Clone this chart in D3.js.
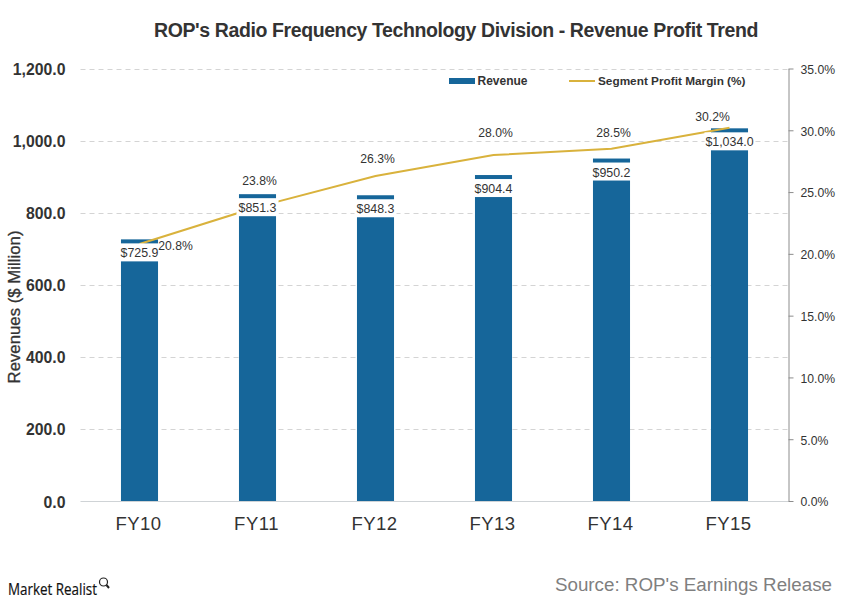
<!DOCTYPE html>
<html><head><meta charset="utf-8">
<script src="https://cdn.jsdelivr.net/npm/d3@7/dist/d3.min.js"></script>
<style>html,body{margin:0;padding:0;background:#fff}svg{display:block;font-family:"Liberation Sans",Arial,sans-serif}</style>
</head><body><svg id="c" width="844" height="602"></svg>
<script>
const categories = ["FY10","FY11","FY12","FY13","FY14","FY15"];
const revenue = [725.9,851.3,848.3,904.4,950.2,1034.0];
const margin = [20.8,23.8,26.3,28.0,28.5,30.2];
const leftTicks = [0,200,400,600,800,1000,1200];
const rightTicks = [0,5,10,15,20,25,30,35];
const revenueLabels = ["$725.9","$851.3","$848.3","$904.4","$950.2","$1,034.0"];
const marginLabels = ["20.8%","23.8%","26.3%","28.0%","28.5%","30.2%"];
const marginLabelOffsets = [[36,2],[2,-26],[2,-17],[2,-22],[2,-16],[-17,-11]];

const svg = d3.select("#c");
const x = d3.scaleBand().domain(categories).range([80.5,788.5]).paddingInner(0.686).paddingOuter(0.343);
const y = d3.scaleLinear().domain([0,1200]).range([501,68.5]);
const yR = d3.scaleLinear().domain([0,35]).range([501,68.5]);
const cx = c => x(c)+x.bandwidth()/2;
const blue="#16669a", gold="#d9b23c", dark="#333333";

// title
svg.append("text").attr("x",456).attr("y",37).attr("text-anchor","middle")
  .attr("font-size",19.5).attr("font-weight","bold").attr("fill",dark).attr("letter-spacing",-0.4)
  .text("ROP's Radio Frequency Technology Division - Revenue Profit Trend");

// gridlines
svg.append("g").selectAll("line").data(leftTicks.filter(d=>d>0)).join("line")
  .attr("x1",80.5).attr("x2",788.5).attr("y1",d=>Math.round(y(d))+.5).attr("y2",d=>Math.round(y(d))+.5)
  .attr("stroke","#d4d4d4").attr("stroke-dasharray","5 4");

// left axis
const gl = svg.append("g").attr("transform","translate(65.5,1)")
  .call(d3.axisLeft(y).tickValues(leftTicks).tickSize(0).tickPadding(0).tickFormat(d3.format(",.1f")));
gl.select(".domain").remove();
gl.selectAll("text").attr("font-size",15.8).attr("font-weight","bold").attr("fill",dark).attr("font-family","inherit");

// baseline
svg.append("line").attr("x1",80.5).attr("x2",788.5).attr("y1",501.5).attr("y2",501.5).attr("stroke","#cfd3d6");

// x axis
const gx = svg.append("g").attr("transform","translate(-1,501)")
  .call(d3.axisBottom(x).tickSize(0).tickPadding(16));
gx.select(".domain").remove();
gx.selectAll("text").attr("font-size",18.5).attr("letter-spacing",0.5).attr("fill",dark);

// right axis
const gr = svg.append("g").attr("transform","translate(788.5,0)")
  .call(d3.axisRight(yR).tickValues(rightTicks).tickSize(5).tickSizeOuter(0).tickPadding(7).tickFormat(d=>d.toFixed(1)+"%"));
gr.select(".domain").attr("stroke","#8c8c8c");
gr.selectAll("line").attr("stroke","#8c8c8c");
gr.selectAll("text").attr("font-size",12.2).attr("fill",dark).attr("transform","translate(0,1)");

// axis title
svg.append("text").attr("transform","translate(19.5,307) rotate(-90)")
  .attr("text-anchor","middle").attr("font-size",16.8).attr("fill",dark).attr("stroke",dark).attr("stroke-width",0.3)
  .text("Revenues ($ Million)");

// bars
svg.append("g").selectAll("rect").data(categories).join("rect")
  .attr("x",d=>x(d)).attr("width",x.bandwidth())
  .attr("y",(d,i)=>y(revenue[i])).attr("height",(d,i)=>y(0)-y(revenue[i])).attr("fill",blue);

// line
const line = d3.line().x((d,i)=>cx(categories[i])).y(d=>yR(d));
svg.append("path").datum(margin).attr("d",line).attr("fill","none").attr("stroke",gold).attr("stroke-width",2);

// revenue labels with white backing
const rl = svg.append("g").selectAll("g").data(categories).join("g");
rl.append("rect").attr("x",(d,i)=>cx(d)-(i==5?25:21)).attr("width",(d,i)=>i==5?50:42)
  .attr("y",(d,i)=>y(revenue[i])+4).attr("height",18).attr("fill","#fff");
rl.append("text").attr("x",d=>cx(d)).attr("y",(d,i)=>y(revenue[i])+18).attr("text-anchor","middle")
  .attr("font-size",12.4).attr("fill",dark).text((d,i)=>revenueLabels[i]);

// margin labels
svg.append("g").selectAll("text").data(categories).join("text")
  .attr("x",(d,i)=>cx(d)+marginLabelOffsets[i][0]).attr("y",(d,i)=>yR(margin[i])+marginLabelOffsets[i][1]+4)
  .attr("text-anchor","middle").attr("font-size",12.2).attr("fill",dark).text((d,i)=>marginLabels[i]);

// legend
svg.append("rect").attr("x",449).attr("y",78).attr("width",26).attr("height",6).attr("fill",blue);
svg.append("text").attr("x",477.5).attr("y",85).attr("font-size",12).attr("font-weight","bold").attr("fill",dark).text("Revenue");
svg.append("line").attr("x1",569).attr("x2",595).attr("y1",81).attr("y2",81).attr("stroke",gold).attr("stroke-width",2);
svg.append("text").attr("x",598).attr("y",85).attr("font-size",11.8).attr("font-weight","bold").attr("fill",dark).text("Segment Profit Margin (%)");

// source
svg.append("text").attr("x",832).attr("y",591).attr("text-anchor","end").attr("font-size",18.8).attr("fill","#7f7f7f").text("Source: ROP's Earnings Release");

// logo
svg.append("text").attr("x",8).attr("y",595).attr("font-size",17).attr("fill","#111").attr("stroke","#111").attr("stroke-width",0.2).style("font-family","'Open Sans'")
  .attr("textLength",89).attr("lengthAdjust","spacingAndGlyphs").text("Market Realist");
const lg = svg.append("g").attr("fill","none").attr("stroke","#222");
lg.append("circle").attr("cx",103.5).attr("cy",582).attr("r",4).attr("stroke-width",1.2);
lg.append("line").attr("x1",106.5).attr("y1",585).attr("x2",109).attr("y2",588).attr("stroke-width",2);
</script></body></html>
